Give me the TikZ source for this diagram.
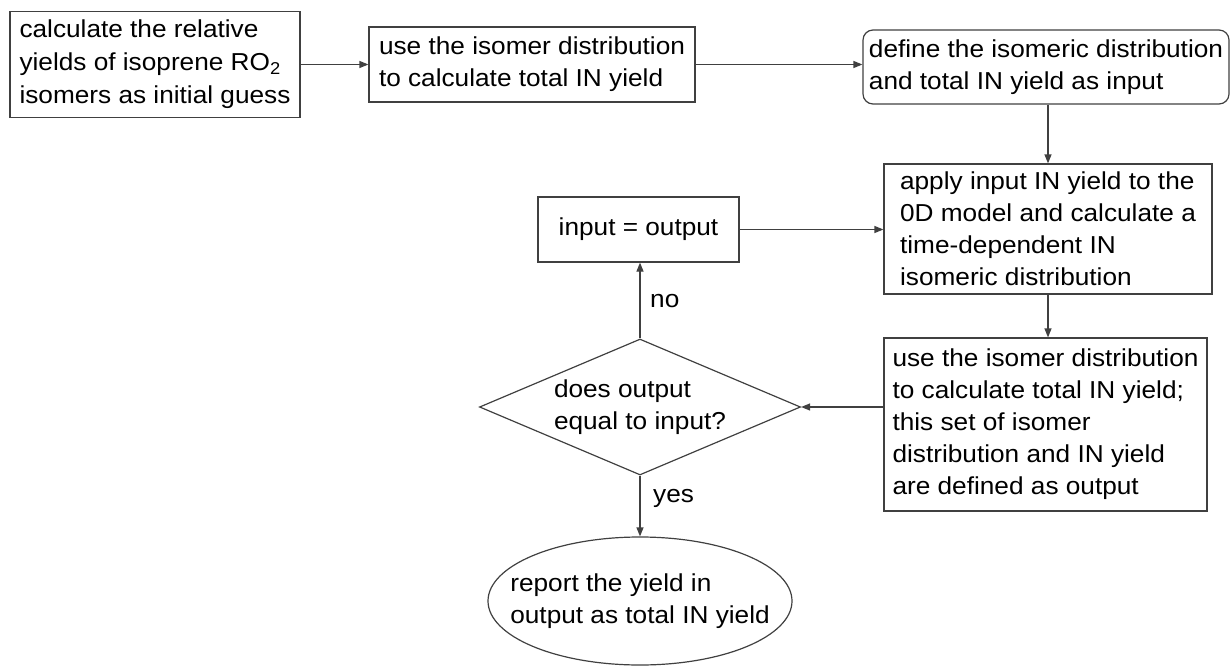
\documentclass[tikz,border=0pt]{standalone}
\usepackage{fontspec}
\setmainfont{Liberation Sans}[FakeStretch=1.07]
\usetikzlibrary{shapes.geometric,arrows.meta}
\definecolor{edge}{HTML}{404040}
\tikzset{
  every node/.style={font=\fontsize{24.5}{32}\selectfont, text=black},
  box/.style={draw=edge, line width=1.2pt, rectangle, align=left, inner sep=0pt},
  rbox/.style={box, rounded corners=10pt},
  decision/.style={draw=edge, line width=1.2pt, diamond, align=left, inner sep=0pt, shape aspect=2.36},
  terminal/.style={draw=edge, line width=1.2pt, ellipse, align=left, inner xsep=-24pt, inner ysep=0pt},
  arr/.style={draw=edge, line width=1.2pt, -{Triangle[length=9pt,width=7pt]}},
  lbl/.style={anchor=west, inner sep=0pt}
}
\begin{document}
\begin{tikzpicture}[x=1pt,y=-1pt]
\useasboundingbox (0,0) rectangle (1231,666);

% process boxes
\node[box, minimum width=290pt, minimum height=106pt, font=\fontsize{24.5}{33}\selectfont] (A) at (155,64.5)
  {calculate the relative\\yields of isoprene RO\textsubscript{2}\\isomers as initial guess};
\node[box, minimum width=326pt, minimum height=75pt] (B) at (532,64.5)
  {use the isomer distribution\\to calculate total IN yield};
\node[rbox, minimum width=366pt, minimum height=74pt] (C) at (1046,67)
  {define the isomeric distribution\\and total IN yield as input};
\node[box, minimum width=328pt, minimum height=130pt] (D) at (1048,229)
  {apply input IN yield to the\\0D model and calculate a\\time-dependent IN\\isomeric distribution};
\node[box, minimum width=323pt, minimum height=173pt] (E) at (1045.5,424.5)
  {use the isomer distribution\\to calculate total IN yield;\\this set of isomer\\distribution and IN yield\\are defined as output};
\node[box, minimum width=201pt, minimum height=65pt] (F) at (638.5,229.5)
  {input = output};

% decision and end
\node[decision, minimum width=321pt, minimum height=136pt] (dia) at (640,407)
  {does output\\equal to input?};
\node[terminal, minimum width=304pt, minimum height=128pt] (ell) at (640,601)
  {report the yield in\\output as total IN yield};

% connectors
\draw[arr] (A.east) -- (A.east -| B.west);
\draw[arr] (B.east) -- (B.east -| C.west);
\draw[arr] (C.south -| D.north) -- (D.north);
\draw[arr] (D.south) -- (E.north -| D.south);
\draw[arr] (dia.east -| E.west) -- (dia.east);
\draw[arr] (dia.north) -- (dia.north |- F.south);
\draw[arr] (F.east) -- (F.east -| D.west);
\draw[arr] (dia.south) -- (ell.north);

% branch labels
\node[lbl] (no) at (650,301) {no};
\node[lbl] (yes) at (653,498) {yes};
\end{tikzpicture}
\end{document}
